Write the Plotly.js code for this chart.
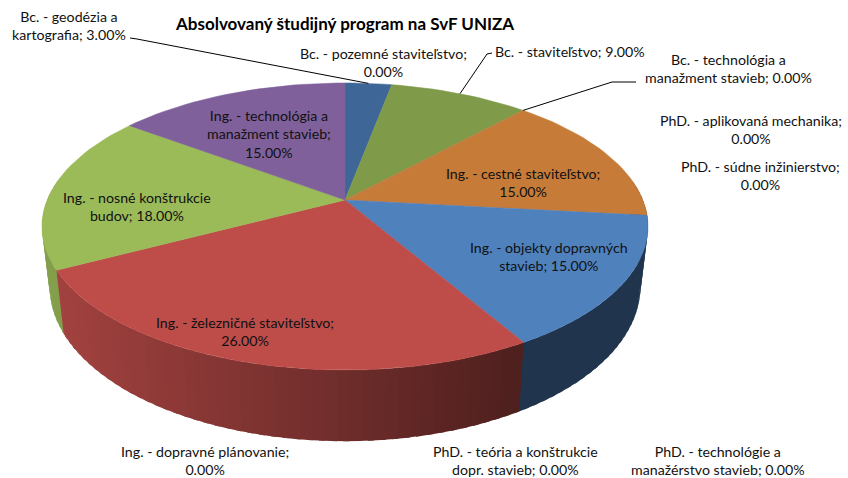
<!DOCTYPE html>
<html><head><meta charset="utf-8">
<script src="https://cdn.plot.ly/plotly-3.0.1.min.js"></script>
<style>html,body{margin:0;padding:0;background:#fff}#c{width:848px;height:478px}</style>
</head><body><div id="c"></div>
<script>
// Data ("|" marks a line break in the label)
const chartTitle = "Absolvovaný študijný program na SvF UNIZA";
const categories = [
  "Bc. - geodézia a|kartografia",
  "Bc. - pozemné staviteľstvo",
  "Bc. - staviteľstvo",
  "Bc. - technológia a|manažment stavieb",
  "PhD. - aplikovaná mechanika",
  "PhD. - súdne inžinierstvo",
  "Ing. - cestné staviteľstvo",
  "Ing. - objekty dopravných|stavieb",
  "Ing. - železničné staviteľstvo",
  "Ing. - dopravné plánovanie",
  "PhD. - teória a konštrukcie|dopr. stavieb",
  "PhD. - technológie a|manažérstvo stavieb",
  "Ing. - nosné konštrukcie|budov",
  "Ing. - technológia a|manažment stavieb"
];
const values = [3, 0, 9, 0, 0, 0, 15, 15, 26, 0, 0, 0, 18, 15];

// Styles and layout
const colors = ["#3E6797","#3E6797","#7F9A48","#7F9A48","#888888","#888888","#C77B38","#4F81BD","#BE4D4A","#BE4D4A","#BE4D4A","#BE4D4A","#9BBB59","#7F609A"];
const labelX = [69,383,570,728,751,760,523,549,245,205,515,718,137,269];
const labelY = [25,62,51,68,129,175,182,256,331,460,460,460,206,134];
const breakValue = [0,1,0,0,1,1,1,0,1,1,0,0,0,1]; // value goes on a line of its own
const leaders = {0:[[130,38],[137,39]], 2:[[492,53],[487,54]], 3:[[636,82],[612,82]]};

// Perspective projection of the pie disc onto the page
const CX=345, CY=200, R=297.8, PB=101.7, PC=-0.1847, DEPTH=58, SHRINK=0.975;
function rim(frac){
  const a=frac*2*Math.PI, u=Math.sin(a), v=-Math.cos(a), d=1+PC*v;
  return {x:CX+R*u/d, y:(CY+PB*v)/d, d:d, v:v};
}
function rimLow(frac){
  const p=rim(frac);
  return {x:CX+(p.x-CX)*SHRINK, y:p.y+DEPTH/p.d, v:p.v};
}
function shade(hex,k){
  const n=parseInt(hex.slice(1),16);
  const c=[n>>16,(n>>8)&255,n&255].map(z=>Math.round(z*k));
  return `rgb(${c[0]},${c[1]},${c[2]})`;
}
const total=values.reduce((a,b)=>a+b,0);
const wallTraces=[], faceTraces=[], lineTraces=[], ann=[];
let cum=0;
values.forEach((val,i)=>{
  const f0=cum/total, f1=(cum+val)/total, mid=(f0+f1)/2;
  cum+=val;
  if(val>0){
    const n=Math.max(2,Math.ceil((f1-f0)*180));
    const xs=[CX], ys=[CY];
    for(let j=0;j<=n;j++){
      const f=f0+(f1-f0)*j/n, p=rim(f);
      xs.push(p.x); ys.push(p.y);
      if(j<n){
        // each wall strip runs half a step into the next one, so no seam shows
        const g=f0+(f1-f0)*(j+1.5)/n, q=rim(g), a=rimLow(f), b=rimLow(g);
        const e=rim(f0+(f1-f0)*(j+1)/n);
        if(p.v>-0.1||q.v>-0.1){
          const k=Math.min(0.85,Math.max(0.41,0.85-0.44*((p.x+e.x)/2-60)/460));
          const col=shade(colors[i],k);
          wallTraces.push({x:[p.x,q.x,b.x,a.x,p.x],y:[p.y,q.y,b.y,a.y,p.y],mode:"none",fill:"toself",
            fillcolor:col,hoverinfo:"skip",showlegend:false});
        }
      }
    }
    xs.push(CX); ys.push(CY);
    faceTraces.push({x:xs,y:ys,mode:"lines",fill:"toself",fillcolor:colors[i],
      line:{color:colors[i],width:0.5},hoverinfo:"skip",showlegend:false});
  }
  if(leaders[i]){
    const e=rim(mid), pts=leaders[i].concat([[e.x,e.y]]);
    lineTraces.push({x:pts.map(p=>p[0]),y:pts.map(p=>p[1]),mode:"lines",
      line:{color:"#000",width:1},hoverinfo:"skip",showlegend:false});
  }
  const sep=breakValue[i]?";<br>":"; ";
  ann.push({x:labelX[i],y:labelY[i],xref:"x",yref:"y",showarrow:false,align:"center",
    xanchor:"center",yanchor:"middle",
    text:categories[i].replace("|","<br>")+sep+val.toFixed(2)+"%",
    font:{family:"Lato, 'Open Sans', sans-serif",size:14.2,color:"#111"}});
});
ann.push({x:344,y:23,xref:"x",yref:"y",showarrow:false,xanchor:"center",yanchor:"middle",
  text:"<b>"+chartTitle+"</b>",font:{family:"Lato, 'Open Sans', sans-serif",size:17,color:"#000"}});

Plotly.newPlot("c",wallTraces.concat(faceTraces,lineTraces),{
  width:848,height:478,autosize:false,margin:{l:0,r:0,t:0,b:0},
  paper_bgcolor:"#fff",plot_bgcolor:"#fff",showlegend:false,
  xaxis:{range:[0,848],visible:false,fixedrange:true},
  yaxis:{range:[478,0],visible:false,fixedrange:true},
  annotations:ann
},{displayModeBar:false,staticPlot:true});
</script></body></html>
